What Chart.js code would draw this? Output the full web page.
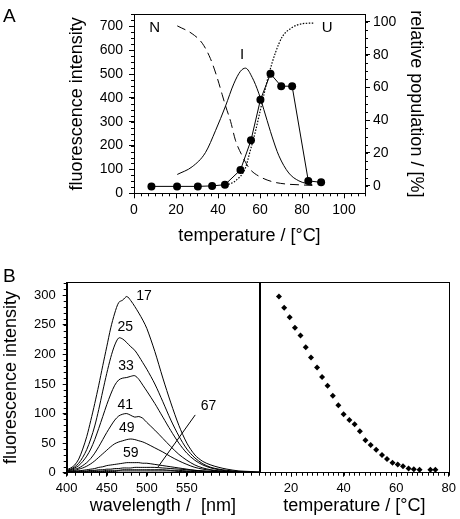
<!DOCTYPE html>
<html>
<head>
<meta charset="utf-8">
<script src="https://cdn.jsdelivr.net/npm/chart.js@4/dist/chart.umd.min.js"></script>
<style>
  body { margin: 0; background: #fff; width: 460px; height: 519px; position: relative; overflow: hidden; }
  canvas { position: absolute; }
</style>
</head>
<body>
<canvas id="chartA" width="460" height="256" style="left:0;top:0"></canvas>
<canvas id="chartB1" width="262" height="263" style="left:0;top:256px"></canvas>
<canvas id="chartB2" width="204" height="263" style="left:256px;top:256px"></canvas>
<script>
// ---- panel A: fluorescence vs temperature, with population curves ----
const tempA = [8.3, 20.5, 30.4, 37.2, 43.3, 50.7, 55.7, 60.2, 65, 70.1, 75.3, 83, 89.1];
const fluorA = [29, 29, 29, 31, 36, 98, 222, 392, 501, 449, 449, 52, 46];

const nTemp = [20.6, 27.7, 32.5, 36.4, 39.6, 42, 43.6, 46, 48.3, 51.5, 53.9, 55.5, 59.4, 65.8, 72.1, 78.5, 84.9];
const nPop  = [97.6, 92.8, 87, 77.6, 66, 55.6, 48.7, 39.3, 27.8, 18.3, 12.6, 9.7, 5.9, 2.5, 1.1, 0.6, 0.2];

const iTemp = [20.6, 27.7, 34, 38.8, 43.6, 47.5, 50.7, 53.1, 56.3, 59.4, 62.6, 65.8, 69, 73.7, 78.5, 84.9];
const iPop  = [6.9, 11.6, 20.2, 33.6, 48.7, 62.2, 69.9, 71.8, 66.1, 56.5, 43.2, 29.8, 18.3, 7.8, 3, 0.6];

const uTemp = [43.6, 48.3, 53.1, 54.7, 57.9, 61, 64.2, 67.4, 70.6, 75.3, 80.1, 85.6];
const uPop  = [0.2, 3, 11, 18.3, 33.6, 50.8, 68, 81.4, 90.9, 96.6, 98.9, 99.3];

const ticksA_x = [0, 20, 40, 60, 80, 100];
const ticksA_y = [0, 100, 200, 300, 400, 500, 600, 700];
const ticksA_y2 = [0, 20, 40, 60, 80, 100];

// ---- panel B: emission spectra and peak intensity ----
const wavelength = [400,405,410,415,420,425,430,435,440,445,450,455,460,465,470,475,480,485,490,495,500,510,520,530,540,550,560,570,580,590,600,615,630,640];
const spec17 = [5,8,13,23,40,61,88,117,148,181,213,245,270,288,292,298,291,281,270,258,244,205,160,118,80,50,30,19,13,9,6,3,2,1];
const spec25 = [4,6,10,16,26,39,57,79,107,138,168,195,216,228,226,220,213,207,197,186,175,150,120,89,62,40,25,15,9,6,4,2,1,1];
const spec33 = [3,5,8,12,19,28,40,56,75,95,115,133,148,157,160,161,163,164,158,148,138,117,94,71,50,33,21,13,8,5,3,2,1,1];
const spec41 = [3,4,6,8,12,17,24,33,44,56,68,79,89,96,99,100,97,94,95,92,85,72,58,44,31,21,13,8,5,3,2,1,1,0];
const spec49 = [3,3,4,6,8,11,15,20,26,32,38,44,49,52,54,56,57,56,54,52,49,42,35,27,20,14,9,6,4,3,2,1,1,0];
const spec59 = [2,2,3,3,4,5,6,7,9,10,12,13,14,15,16,17,17,17,17,16,16,14,12,10,8,6,4,3,2,2,1,1,0,0];
const spec67 = [2,2,2,3,3,3,4,4,5,5,6,6,7,7,8,8,8,9,9,9,9,9,8,7,6,5,4,3,2,1,1,1,0,0];
const spec75 = [1,1,2,2,2,2,3,3,3,3,4,4,4,4,5,5,5,5,5,5,5,5,5,4,4,3,3,2,2,1,1,0,0,0];
const spec83 = [1,1,1,1,1,1,2,2,2,2,2,2,2,3,3,3,3,3,3,3,3,3,3,3,2,2,2,1,1,1,1,0,0,0];
const specLabels = ['17', '25', '33', '41', '49', '59', '67'];
const specLabelX = [496.6, 473, 474, 473, 475, 480, 577];
const specLabelY = [299, 247, 179.5, 114.7, 75, 32.8, 111.8];
const pointerX = [514, 560.4];
const pointerY = [9.7, 97.7];

const tempB = [15.4,17.4,19.5,21.5,23.6,25.6,27.6,29.9,31.8,33.9,35.9,38,40,42.2,44.2,46.2,48.3,50.3,52.4,54.6,56.5,58.6,60.6,62.6,64.7,66.7,68.9,73,74.9];
const fluorB = [298,279,263,245,232,212,195,178,162,147,130,114,99,89,82,70,55,47,39,30,23,17,14,11,7,6,5,5,5];

const ticksB_x = [400, 450, 500, 550];
const ticksB_y = [0, 50, 100, 150, 200, 250, 300];
const ticksB_x2 = [20, 40, 60, 80];

Chart.defaults.font.family = "'Liberation Sans', Arial, Helvetica, sans-serif";
Chart.defaults.color = '#000';

const pairs = (xs, ys) => xs.map((x, i) => ({ x: x, y: ys[i] }));
const fixTicks = list => scale => { scale.ticks = list.map(v => ({ value: v })); };

// minor ticks plugin + frame + free text
const extras = {
  id: 'extras',
  afterDraw(chart, args, opts) {
    const ctx = chart.ctx;
    ctx.save();
    ctx.strokeStyle = '#000';
    ctx.lineWidth = 1;
    (opts.minor || []).forEach(([id, step, len]) => {
      const s = chart.scales[id];
      ctx.beginPath();
      const n0 = Math.ceil(s.min / step - 1e-6), n1 = Math.floor(s.max / step + 1e-6);
      for (let i = n0; i <= n1; i++) {
        const p = Math.round(s.getPixelForValue(i * step)) + 0.5;
        if (s.isHorizontal()) { ctx.moveTo(p, s.top); ctx.lineTo(p, s.top + len); }
        else if (s.position === 'left') { ctx.moveTo(s.right, p); ctx.lineTo(s.right - len, p); }
        else { ctx.moveTo(s.left, p); ctx.lineTo(s.left + len, p); }
      }
      ctx.stroke();
    });
    const a = chart.chartArea;
    ctx.strokeRect(Math.round(a.left) + 0.5, Math.round(a.top) + 0.5, Math.round(a.right - a.left), Math.round(a.bottom - a.top));
    ctx.fillStyle = '#000';
    ctx.textAlign = 'center';
    ctx.textBaseline = 'middle';
    (opts.texts || []).forEach(t => {
      ctx.font = t.font;
      if (t.px) { ctx.textAlign = 'left'; ctx.textBaseline = 'alphabetic'; ctx.fillText(t.text, t.px, t.py); ctx.textAlign = 'center'; ctx.textBaseline = 'middle'; return; }
      ctx.fillText(t.text, chart.scales[t.xs].getPixelForValue(t.x), chart.scales[t.ys].getPixelForValue(t.y));
    });
    ctx.restore();
  }
};

const axisBase = {
  type: 'linear',
  border: { color: '#000', width: 1 },
  grid: { drawOnChartArea: false, color: '#000', tickLength: 5, tickWidth: 1 },
};
const curve = (xs, ys, extra) => Object.assign({
  data: pairs(xs, ys), yAxisID: 'y2', borderColor: '#000', borderWidth: 1,
  pointRadius: 0, tension: 0.4, cubicInterpolationMode: 'monotone', fill: false
}, extra);

new Chart(document.getElementById('chartA'), {
  type: 'line',
  data: {
    datasets: [
      { data: pairs(tempA, fluorA), yAxisID: 'y', borderColor: '#000', borderWidth: 1,
        pointRadius: 4, pointBackgroundColor: '#000', pointBorderWidth: 0, tension: 0 },
      curve(nTemp, nPop, { borderDash: [9, 5] }),
      curve(iTemp, iPop, {}),
      curve(uTemp, uPop, { borderDash: [1.5, 1.5], borderWidth: 1.2 }),
    ]
  },
  options: {
    responsive: false, animation: false, devicePixelRatio: 1,
    layout: { padding: { top: 3, left: 0, right: 0, bottom: 0 } },
    plugins: {
      legend: { display: false }, tooltip: { enabled: false },
      extras: {
        minor: [['x', 10 / 3, 3], ['y', 25, 3], ['y2', 5, 3]],
        texts: [
          { text: 'A', px: 3, py: 22, font: '19px "Liberation Sans", Arial' },
          { text: 'N', xs: 'x', ys: 'y', x: 9.8, y: 692, font: '15px "Liberation Sans", Arial' },
          { text: 'I', xs: 'x', ys: 'y', x: 51.5, y: 582, font: '15px "Liberation Sans", Arial' },
          { text: 'U', xs: 'x', ys: 'y', x: 92, y: 692, font: '15px "Liberation Sans", Arial' },
        ]
      }
    },
    scales: {
      x: Object.assign({}, axisBase, {
        min: 0, max: 110, position: 'bottom',
        afterBuildTicks: fixTicks(ticksA_x), afterFit: s => { s.height = 62.7; },
        ticks: { font: { size: 14 }, padding: 3, maxRotation: 0 },
        title: { display: true, text: 'temperature / [°C]', font: { size: 18 }, padding: { top: 0, bottom: 9.2 } }
      }),
      y: Object.assign({}, axisBase, {
        min: 0, max: 750, position: 'left',
        afterBuildTicks: fixTicks(ticksA_y), afterFit: s => { s.width = 134; },
        ticks: { font: { size: 14 }, padding: 6 },
        title: { display: true, text: 'fluorescence intensity', font: { size: 18 }, padding: { top: 66, bottom: 0 } }
      }),
      y2: Object.assign({}, axisBase, {
        min: -4.6, max: 104.6, position: 'right',
        afterBuildTicks: fixTicks(ticksA_y2), afterFit: s => { s.width = 95; },
        ticks: { font: { size: 14 }, padding: 3 },
        title: { display: true, text: 'relative population / [%]', font: { size: 18 }, padding: { top: 33, bottom: 0 } }
      })
    }
  },
  plugins: [extras]
});

const specSets = [spec17, spec25, spec33, spec41, spec49, spec59, spec67, spec75, spec83];
const lblFont = '14px "Liberation Sans", Arial';

new Chart(document.getElementById('chartB1'), {
  type: 'line',
  data: {
    datasets: specSets.map(s => ({
      data: pairs(wavelength, s), borderColor: '#000', borderWidth: 1, pointRadius: 0, tension: 0.3, fill: false
    })).concat([{ data: pairs(pointerX, pointerY), borderColor: '#000', borderWidth: 1, pointRadius: 0 }])
  },
  options: {
    responsive: false, animation: false, devicePixelRatio: 1,
    layout: { padding: { top: 26.3, left: 0, right: 3, bottom: 0 } },
    plugins: {
      legend: { display: false }, tooltip: { enabled: false },
      extras: {
        minor: [['x', 10, 3], ['y', 10, 3]],
        texts: [{ text: 'B', px: 3, py: 26, font: '19px "Liberation Sans", Arial' }].concat(
          specLabels.map((t, i) => ({ text: t, xs: 'x', ys: 'y', x: specLabelX[i], y: specLabelY[i], font: lblFont })))
      }
    },
    scales: {
      x: Object.assign({}, axisBase, {
        min: 400, max: 640, position: 'bottom',
        grid: Object.assign({}, axisBase.grid, { tickLength: 4 }),
        afterBuildTicks: fixTicks(ticksB_x), afterFit: s => { s.height = 46.3; },
        ticks: { font: { size: 13 }, padding: 4, maxRotation: 0 },
        title: { display: true, text: 'wavelength /  [nm]', font: { size: 18 }, padding: { top: 0, bottom: 2 } }
      }),
      y: Object.assign({}, axisBase, {
        min: 0, max: 322, position: 'left',
        grid: Object.assign({}, axisBase.grid, { tickLength: 4 }),
        afterBuildTicks: fixTicks(ticksB_y), afterFit: s => { s.width = 66.7; },
        ticks: { font: { size: 13 }, padding: 7 },
        title: { display: true, text: 'fluorescence intensity', font: { size: 18 }, padding: { top: 0, bottom: 0 } }
      })
    }
  },
  plugins: [extras]
});

new Chart(document.getElementById('chartB2'), {
  type: 'line',
  data: {
    datasets: [{
      data: pairs(tempB, fluorB), showLine: false, pointStyle: 'rectRot', pointRadius: 3,
      pointBackgroundColor: '#000', pointBorderWidth: 0, borderColor: '#000'
    }]
  },
  options: {
    responsive: false, animation: false, devicePixelRatio: 1,
    layout: { padding: { top: 26.3, left: 3, right: 10, bottom: 0 } },
    plugins: {
      legend: { display: false }, tooltip: { enabled: false },
      extras: { minor: [['x', 2, 3]] }
    },
    scales: {
      x: Object.assign({}, axisBase, {
        min: 8.2, max: 80, position: 'bottom',
        grid: Object.assign({}, axisBase.grid, { tickLength: 4 }),
        afterBuildTicks: fixTicks(ticksB_x2), afterFit: s => { s.height = 46.3; },
        ticks: { font: { size: 13 }, padding: 4, maxRotation: 0 },
        title: { display: true, text: 'temperature / [°C]', font: { size: 18 }, padding: { top: 0, bottom: 2 } }
      }),
      y: { type: 'linear', min: 0, max: 322, display: false }
    }
  },
  plugins: [extras]
});
</script>
</body>
</html>
